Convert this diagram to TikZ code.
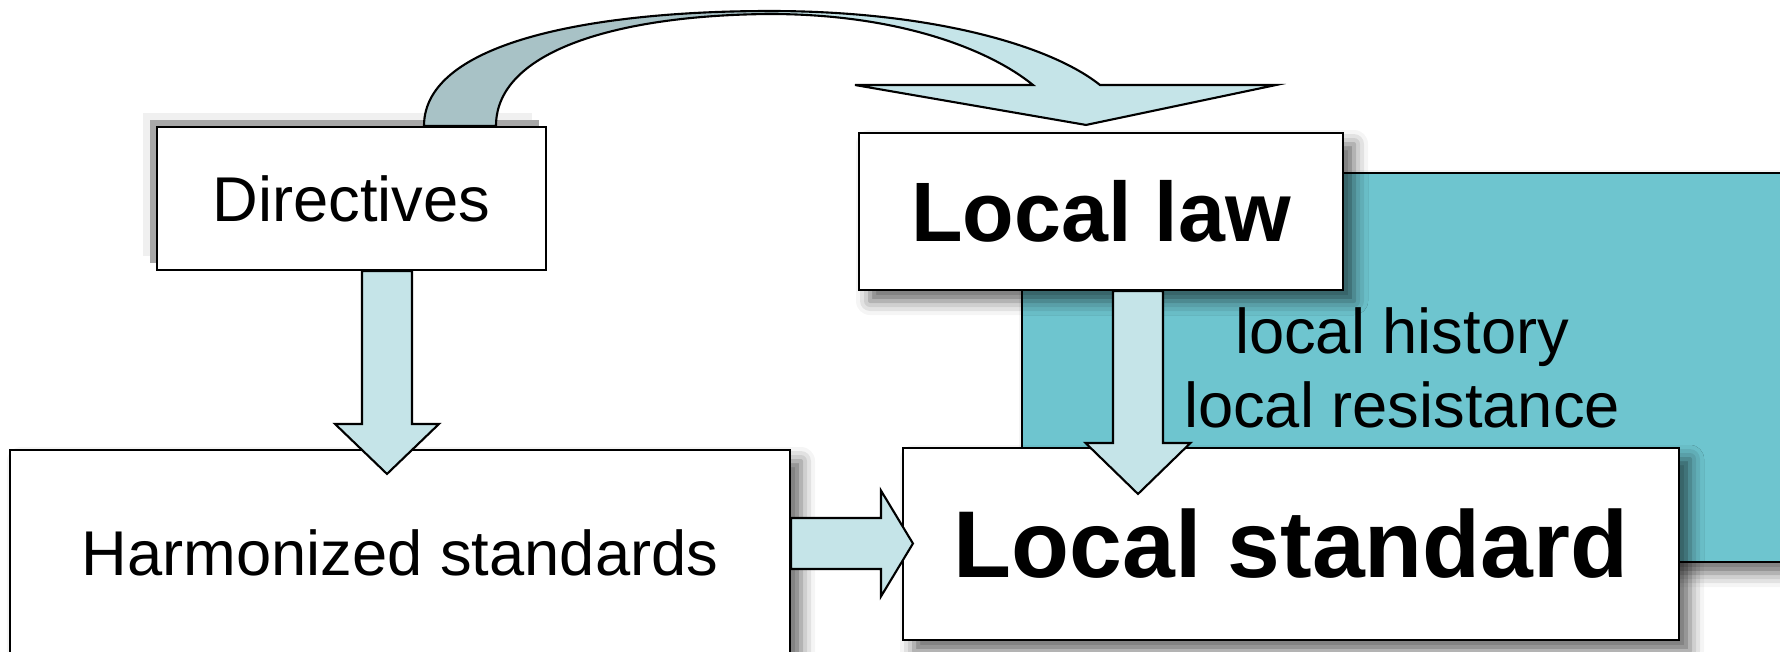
\documentclass[tikz,border=0pt]{standalone}
\usepackage{fontspec}
\setmainfont{Liberation Sans}
\usetikzlibrary{calc,shadows,shadows.blur}
\definecolor{arrowfill}{HTML}{C5E4E8}
\definecolor{ribbondark}{HTML}{A8C2C6}
\definecolor{contextfill}{HTML}{6EC5CF}
\pgfdeclarehorizontalshading{ribbon}{100bp}{color(0bp)=(ribbondark); color(44.5bp)=(ribbondark); color(46.5bp)=(arrowfill); color(100bp)=(arrowfill)}
\begin{document}
\begin{tikzpicture}[
  box/.style={draw, line width=0.6pt, fill=white, inner sep=0pt},
  softshadow/.style={blur shadow={shadow xshift=0.11cm, shadow yshift=-0.11cm, shadow blur radius=0.14cm, shadow opacity=60}},
  fatarrow/.style={draw, line width=0.6pt, fill=arrowfill, line join=miter}]
  \useasboundingbox (0,0) rectangle (17.8,-6.52);
  \node[box, softshadow, fill=contextfill, minimum width=7.6cm, minimum height=3.89cm, align=center, font=\fontsize{18}{21}\selectfont] (ctx) at (14.02,-3.675) {local history\\local resistance};
  \node[box, softshadow, minimum width=4.84cm, minimum height=1.57cm, font=\fontsize{24}{28}\selectfont\bfseries] (law) at (11.01,-2.115) {Local law};
  \node[box, softshadow, minimum width=7.76cm, minimum height=1.92cm, font=\fontsize{27}{32}\selectfont\bfseries] (std) at (12.91,-5.44) {Local standard};
  \node[box, softshadow, minimum width=7.8cm, minimum height=2.06cm, font=\fontsize{18}{21}\selectfont] (harm) at (4.0,-5.53) {Harmonized standards};
  \node[box, drop shadow={shadow xshift=-0.14cm, shadow yshift=0.14cm, fill=black!6, opacity=1}, drop shadow={shadow xshift=-0.07cm, shadow yshift=0.07cm, fill=black!34, opacity=1}, minimum width=3.89cm, minimum height=1.43cm, font=\fontsize{18}{21}\selectfont] (dir) at (3.515,-1.985) {Directives};
  \coordinate (d1) at (3.87,0 |- dir.south);
  \coordinate (d1h) at ($(3.87,0 |- harm.north)+(0,0.25)$);
  \draw[fatarrow] ([xshift=-2.5mm]d1) -- ([xshift=-2.5mm]d1h) -- ([xshift=-5.2mm]d1h) -- ([yshift=-5mm]d1h) -- ([xshift=5.2mm]d1h) -- ([xshift=2.5mm]d1h) -- ([xshift=2.5mm]d1) -- cycle;
  \coordinate (d2) at (11.38,0 |- law.south);
  \coordinate (d2h) at ($(11.38,0 |- std.north)+(0,0.04)$);
  \draw[fatarrow] ([xshift=-2.5mm]d2) -- ([xshift=-2.5mm]d2h) -- ([xshift=-5.25mm]d2h) -- ([yshift=-5.1mm]d2h) -- ([xshift=5.25mm]d2h) -- ([xshift=2.5mm]d2h) -- ([xshift=2.5mm]d2) -- cycle;
  \coordinate (r1) at (harm.east |- 0,-5.435);
  \coordinate (r1h) at ($(std.west |- 0,-5.435)+(-0.21,0)$);
  \draw[fatarrow] ([yshift=2.55mm]r1) -- ([yshift=2.55mm]r1h) -- ([yshift=5.3mm]r1h) -- ([xshift=3.2mm]r1h) -- ([yshift=-5.3mm]r1h) -- ([yshift=-2.55mm]r1h) -- ([yshift=-2.55mm]r1) -- cycle;
  \coordinate (c1) at ($(10.86,0 |- law.north)+(0,0.07)$);
  \draw[fatarrow, shading=ribbon] (4.24,0 |- dir.north) .. controls (4.24,-0.40) and (6.00,-0.11) .. (7.70,-0.11) .. controls (9.30,-0.11) and (10.50,-0.45) .. (11.00,-0.85) -- (12.76,-0.85) -- (c1) -- (8.55,-0.85) -- (10.33,-0.85) .. controls (9.90,-0.50) and (9.00,-0.14) .. (7.70,-0.14) .. controls (6.20,-0.15) and (4.96,-0.50) .. (4.96,0 |- dir.north) -- cycle;
\end{tikzpicture}
\end{document}
